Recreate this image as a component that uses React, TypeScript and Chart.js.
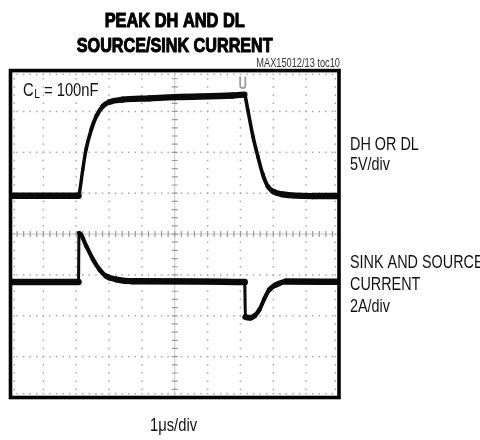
import React, { useEffect, useRef } from "react";
import { Chart, registerables } from "chart.js";

Chart.register(...registerables);

// Oscilloscope screen: x in divisions (1 µs/div), y in divisions (center = 0)
const dhTime = [0, 2.07, 2.1, 2.2, 2.3, 2.46, 2.61, 2.81, 3.01, 3.41, 4.23, 5.01, 6.76, 7.12, 7.22, 7.38, 7.53, 7.68, 7.83, 7.98, 8.29, 9.2, 10];
const dhLevel = [0.94, 0.94, 1.02, 1.58, 2.07, 2.56, 2.88, 3.13, 3.23, 3.29, 3.32, 3.35, 3.39, 3.41, 3.05, 2.39, 1.9, 1.46, 1.17, 1.05, 0.97, 0.93, 0.93];

const curTime = [0, 2.07, 2.085, 2.31, 2.51, 2.71, 2.91, 3.22, 3.71, 7.13, 7.15, 7.3, 7.43, 7.58, 7.73, 7.88, 8.09, 8.39, 10];
const curLevel = [-1.175, -1.175, 0.03, -0.3, -0.62, -0.87, -1.03, -1.11, -1.155, -1.175, -2.03, -2.05, -2.0, -1.85, -1.58, -1.36, -1.24, -1.16, -1.17];

const triggerTime = 7.07;
const xDivs = 10;
const yDivs = 4;

const titleLines = ["PEAK DH AND DL", "SOURCE/SINK CURRENT"];
const partLabel = "MAX15012/13 toc10";
const loadLabelMain = "C";
const loadLabelSub = "L";
const loadLabelRest = " = 100nF";
const ch1Labels = ["DH OR DL", "5V/div"];
const ch2Labels = ["SINK AND SOURCE", "CURRENT", "2A/div"];
const timebaseLabel = "1\u03bcs/div";

const FONT = '"Liberation Sans", Arial, "DejaVu Sans", sans-serif';

const toPoints = (t: number[], v: number[]) => t.map((x, i) => ({ x, y: v[i] }));

const segWidth = (ctx: any) => {
  const dx = Math.abs(ctx.p1.x - ctx.p0.x);
  const dy = Math.abs(ctx.p1.y - ctx.p0.y);
  const steep = dy / (dx + dy + 0.0001);
  return 6.5 - 3.5 * steep;
};

// draws condensed text; returns drawn width
function narrowText(ctx: any, s: string, x: number, y: number, font: string, sx: number, align: "left" | "right" | "center" = "left", heavy = 0) {
  ctx.font = font;
  const w = ctx.measureText(s).width * sx;
  let x0 = x;
  if (align === "right") x0 = x - w;
  if (align === "center") x0 = x - w / 2;
  ctx.save();
  ctx.translate(x0, y);
  ctx.scale(sx, 1);
  ctx.textAlign = "left";
  ctx.textBaseline = "alphabetic";
  ctx.fillText(s, 0, 0);
  if (heavy > 0) {
    ctx.lineWidth = heavy;
    ctx.strokeStyle = ctx.fillStyle;
    ctx.lineJoin = "round";
    ctx.strokeText(s, 0, 0);
  }
  ctx.restore();
  return w;
}

const gridPlugin = {
  id: "scopeGrid",
  beforeDatasetsDraw(chart: any) {
    const { ctx, chartArea: a, scales } = chart;
    const xs = scales.x;
    const ys = scales.y;
    ctx.save();
    ctx.fillStyle = "#a8a8a8";
    for (let i = 1; i < xDivs; i++) {
      if (i === xDivs / 2) continue;
      const px = xs.getPixelForValue(i);
      for (let k = 0; k <= yDivs * 2 * 5; k++) {
        const py = ys.getPixelForValue(-yDivs + k * 0.2);
        ctx.fillRect(px - 0.75, py - 0.75, 1.5, 1.5);
      }
    }
    for (let j = -yDivs + 1; j < yDivs; j++) {
      if (j === 0) continue;
      const py = ys.getPixelForValue(j);
      for (let k = 0; k <= xDivs * 5; k++) {
        const px = xs.getPixelForValue(k * 0.2);
        ctx.fillRect(px - 0.75, py - 0.75, 1.5, 1.5);
      }
    }
    for (let k = 0; k <= xDivs * 5; k++) {
      const px = xs.getPixelForValue(k * 0.2);
      ctx.fillRect(px - 0.75, a.top + 3, 1.5, 1.5);
      ctx.fillRect(px - 0.75, a.bottom - 4.5, 1.5, 1.5);
    }
    for (let k = 0; k <= yDivs * 10; k++) {
      const py = ys.getPixelForValue(-yDivs + k * 0.2);
      ctx.fillRect(a.left + 3, py - 0.75, 1.5, 1.5);
      ctx.fillRect(a.right - 4.5, py - 0.75, 1.5, 1.5);
    }
    const cx = xs.getPixelForValue(xDivs / 2);
    const cy = ys.getPixelForValue(0);
    ctx.strokeStyle = "#c4c4c4";
    ctx.lineWidth = 1;
    ctx.beginPath();
    ctx.moveTo(a.left, cy);
    ctx.lineTo(a.right, cy);
    ctx.moveTo(cx, a.top);
    ctx.lineTo(cx, a.bottom);
    ctx.stroke();
    ctx.strokeStyle = "#9a9a9a";
    ctx.lineWidth = 1.2;
    ctx.beginPath();
    for (let k = 0; k <= xDivs * 5; k++) {
      const px = xs.getPixelForValue(k * 0.2);
      ctx.moveTo(px, cy - 3);
      ctx.lineTo(px, cy + 3);
    }
    for (let k = 0; k <= yDivs * 10; k++) {
      const py = ys.getPixelForValue(-yDivs + k * 0.2);
      ctx.moveTo(cx - 3, py);
      ctx.lineTo(cx + 3, py);
    }
    ctx.stroke();
    const tx = xs.getPixelForValue(triggerTime);
    ctx.strokeStyle = "#9c9c9c";
    ctx.lineWidth = 1.8;
    ctx.beginPath();
    ctx.moveTo(tx - 2.6, a.top + 6);
    ctx.lineTo(tx - 2.6, a.top + 15);
    ctx.arc(tx, a.top + 15, 2.6, Math.PI, 0, true);
    ctx.lineTo(tx + 2.6, a.top + 6);
    ctx.stroke();
    ctx.restore();
  },
  afterDatasetsDraw(chart: any) {
    const { ctx, chartArea: a } = chart;
    ctx.save();
    ctx.strokeStyle = "#000";
    ctx.lineWidth = 3.6;
    ctx.strokeRect(a.left, a.top, a.right - a.left, a.bottom - a.top);
    ctx.restore();
  },
  afterDraw(chart: any) {
    const { ctx, chartArea: a } = chart;
    const mid = (a.left + a.right) / 2;
    ctx.save();
    ctx.fillStyle = "#000";
    narrowText(ctx, titleLines[0], mid, 27, `bold 21px ${FONT}`, 0.78, "center", 1.1);
    narrowText(ctx, titleLines[1], mid, 52, `bold 21px ${FONT}`, 0.77, "center", 1.1);
    ctx.fillStyle = "#333";
    narrowText(ctx, partLabel, a.right + 1, 66.5, `12px ${FONT}`, 0.77, "right");
    ctx.fillStyle = "#111";
    const big = `18px ${FONT}`;
    let x = 23;
    x += narrowText(ctx, loadLabelMain, x, 95.5, big, 0.82);
    x += 0.5;
    x += narrowText(ctx, loadLabelSub, x, 98, `12.5px ${FONT}`, 0.82);
    narrowText(ctx, loadLabelRest, x, 95.5, big, 0.82);
    const rx = a.right + 11;
    const ch1Base = [150, 170];
    ch1Labels.forEach((s, i) => narrowText(ctx, s, rx, ch1Base[i], big, 0.8));
    const ch2Base = [268, 290, 312];
    ch2Labels.forEach((s, i) => narrowText(ctx, s, rx, ch2Base[i], big, 0.8));
    narrowText(ctx, timebaseLabel, 150, 431, big, 0.82);
    ctx.restore();
  },
};

export default function App() {
  const canvasRef = useRef<HTMLCanvasElement | null>(null);

  useEffect(() => {
    const canvas = canvasRef.current;
    if (!canvas) return;
    const chart = new Chart(canvas, {
      type: "line",
      data: {
        datasets: [
          {
            label: "DH OR DL",
            data: toPoints(dhTime, dhLevel),
            borderColor: "#0a0a0a",
            borderWidth: 5,
            pointRadius: 0,
            cubicInterpolationMode: "monotone",
            borderCapStyle: "round",
            borderJoinStyle: "round",
            segment: { borderWidth: segWidth },
          },
          {
            label: "SINK AND SOURCE CURRENT",
            data: toPoints(curTime, curLevel),
            borderColor: "#0a0a0a",
            borderWidth: 5,
            pointRadius: 0,
            cubicInterpolationMode: "monotone",
            borderCapStyle: "round",
            borderJoinStyle: "round",
            segment: { borderWidth: segWidth },
          },
        ],
      },
      options: {
        responsive: false,
        animation: false,
        devicePixelRatio: 1,
        layout: { padding: { left: 10.5, right: 141, top: 70.6, bottom: 42.5 } },
        scales: {
          x: { type: "linear", min: 0, max: xDivs, display: false },
          y: { type: "linear", min: -yDivs, max: yDivs, display: false },
        },
        plugins: {
          legend: { display: false },
          tooltip: { enabled: false },
          title: { display: false },
        },
      },
      plugins: [gridPlugin],
    } as any);
    return () => chart.destroy();
  }, []);

  return (
    <div style={{ position: "absolute", left: 0, top: 0, width: 480, height: 440, background: "#fff" }}>
      <canvas ref={canvasRef} width={480} height={440} style={{ display: "block" }} />
    </div>
  );
}
